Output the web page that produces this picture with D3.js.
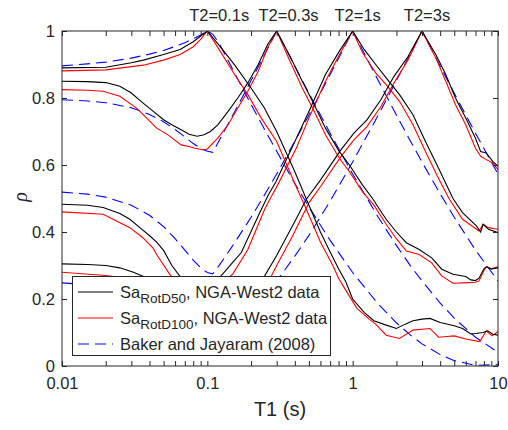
<!DOCTYPE html>
<html><head><meta charset="utf-8">
<script src="https://cdn.jsdelivr.net/npm/d3@7/dist/d3.min.js"></script>
<style>
html,body{margin:0;padding:0;background:#fff;}
svg text{font-family:"Liberation Sans",Arial,Helvetica,sans-serif;fill:#262626;}
</style></head>
<body><svg id="c" width="508" height="430"></svg>
<script>
// ---------- data ----------
const xTickMajor = [0.01, 0.1, 1, 10];
const yTicks = [0, 0.2, 0.4, 0.6, 0.8, 1];
const t2Labels = ["T2=0.1s", "T2=0.3s", "T2=1s", "T2=3s"];
const t2Values = [0.1, 0.3, 1, 3];
const legendLabels = [["Sa", "RotD50", ", NGA-West2 data"], ["Sa", "RotD100", ", NGA-West2 data"], ["Baker and Jayaram (2008)", "", ""]];

// Baker & Jayaram (2008) curves
const bjT = [0.01,0.015,0.02,0.03,0.04,0.05,0.06,0.07,0.08,0.09,0.1,0.109,0.12,0.15,0.2,0.25,0.3,0.4,0.5,0.7,1,1.5,2,2.5,3,4,5,7,10];
const bj01 = [0.896,0.902,0.907,0.919,0.931,0.942,0.954,0.965,0.977,0.988,1.0,0.990,0.965,0.884,0.781,0.703,0.641,0.545,0.475,0.375,0.279,0.185,0.129,0.092,0.066,0.034,0.016,0.002,0.004];
const bj03 = [0.795,0.791,0.786,0.771,0.751,0.729,0.706,0.684,0.664,0.650,0.641,0.638,0.671,0.749,0.852,0.933,1.0,0.895,0.814,0.695,0.573,0.444,0.360,0.299,0.254,0.188,0.143,0.086,0.041];
const bj1  = [0.519,0.513,0.504,0.480,0.450,0.416,0.380,0.346,0.316,0.293,0.279,0.275,0.299,0.360,0.444,0.514,0.573,0.671,0.749,0.870,1.0,0.852,0.749,0.671,0.609,0.514,0.444,0.346,0.254];
const bj3  = [0.248,0.243,0.237,0.219,0.196,0.170,0.143,0.117,0.094,0.077,0.067,0.063,0.076,0.111,0.163,0.211,0.254,0.328,0.390,0.492,0.609,0.749,0.852,0.933,1.0,0.895,0.814,0.695,0.573];

// NGA-West2 RotD50 (black) and RotD100 (red), T2 = 0.1 s
const d01T_50 = [0.01,0.02,0.03,0.0363,0.05,0.065,0.08,0.09,0.1,0.125,0.154,0.2,0.247,0.3,0.4,0.5,0.6,0.7,0.8,0.9,1.0,1.2,1.4,1.7,2.0,2.3,2.6,3.0,3.4,4.0,5.0,5.7,6.5,7.0,7.9,8.5,9.2,10];
const d01_50  = [0.890,0.892,0.905,0.913,0.930,0.945,0.968,0.985,1.0,0.949,0.899,0.830,0.770,0.700,0.580,0.480,0.400,0.340,0.290,0.250,0.200,0.160,0.135,0.122,0.112,0.125,0.135,0.140,0.142,0.130,0.120,0.112,0.096,0.097,0.100,0.105,0.095,0.092];
const d01T_100 = [0.01,0.02,0.0363,0.05,0.065,0.08,0.09,0.1,0.125,0.154,0.19,0.235,0.3,0.4,0.5,0.6,0.73,0.8,0.9,1.07,1.3,1.44,1.7,2.1,2.6,3.4,3.9,4.45,5.0,6.1,7.5,8.3,9.1,10];
const d01_100  = [0.881,0.884,0.898,0.913,0.930,0.953,0.975,1.0,0.934,0.870,0.810,0.740,0.670,0.545,0.450,0.370,0.300,0.262,0.225,0.172,0.140,0.125,0.092,0.082,0.107,0.112,0.086,0.088,0.090,0.080,0.073,0.105,0.090,0.103];

// T2 = 0.3 s
const d03T_50 = [0.01,0.015,0.02,0.025,0.03,0.035,0.0425,0.05,0.057,0.066,0.075,0.085,0.095,0.105,0.118,0.139,0.162,0.19,0.224,0.26,0.3,0.366,0.45,0.53,0.65,0.81,0.95,1.17,1.37,1.53,1.7,2.0,2.34,2.87,3.5,4.1,4.9,6.0,6.5,7.0,7.4,8.0,8.3,9.0,10];
const d03_50  = [0.850,0.849,0.846,0.835,0.815,0.790,0.760,0.735,0.720,0.705,0.692,0.686,0.690,0.700,0.720,0.760,0.800,0.845,0.900,0.960,1.0,0.929,0.850,0.790,0.710,0.640,0.600,0.540,0.500,0.468,0.438,0.400,0.368,0.348,0.323,0.289,0.274,0.267,0.257,0.255,0.262,0.290,0.296,0.290,0.293];
const d03T_100 = [0.01,0.015,0.0192,0.025,0.0326,0.0383,0.0448,0.0536,0.066,0.075,0.082,0.094,0.1,0.118,0.139,0.162,0.19,0.224,0.26,0.3,0.366,0.45,0.53,0.65,0.81,0.95,1.17,1.4,1.7,2.0,2.34,2.87,3.5,4.1,4.9,6.3,7.0,7.4,8.0,8.3,9.0,10];
const d03_100  = [0.825,0.823,0.820,0.805,0.770,0.740,0.710,0.690,0.660,0.655,0.650,0.645,0.648,0.680,0.720,0.770,0.820,0.880,0.950,1.0,0.915,0.830,0.770,0.690,0.620,0.580,0.520,0.480,0.423,0.380,0.343,0.333,0.308,0.269,0.247,0.249,0.250,0.254,0.285,0.296,0.290,0.296];

// T2 = 1 s
const d1T_50 = [0.01,0.015,0.0192,0.025,0.0293,0.035,0.0403,0.0448,0.05,0.057,0.065,0.075,0.09,0.105,0.116,0.131,0.15,0.171,0.224,0.26,0.297,0.41,0.5,0.65,0.81,1.0,1.2,1.44,1.7,2.1,2.6,3.17,3.9,4.9,5.7,7.1,7.6,7.9,8.6,10];
const d1_50  = [0.483,0.480,0.473,0.455,0.438,0.410,0.388,0.370,0.345,0.300,0.267,0.240,0.220,0.235,0.255,0.280,0.310,0.338,0.448,0.507,0.551,0.680,0.760,0.870,0.940,1.0,0.945,0.900,0.860,0.810,0.750,0.670,0.590,0.500,0.458,0.418,0.400,0.423,0.408,0.398];
const d1T_100 = [0.01,0.0192,0.0293,0.036,0.0425,0.0448,0.0553,0.065,0.08,0.1,0.128,0.15,0.19,0.248,0.276,0.297,0.41,0.5,0.65,0.81,1.0,1.17,1.44,1.7,2.1,2.6,3.17,3.9,4.6,5.7,7.4,7.9,8.6,10];
const d1_100  = [0.460,0.453,0.413,0.383,0.351,0.333,0.273,0.240,0.210,0.210,0.250,0.275,0.348,0.468,0.507,0.531,0.651,0.740,0.850,0.929,1.0,0.935,0.875,0.840,0.790,0.720,0.640,0.560,0.500,0.438,0.403,0.423,0.413,0.408];

// T2 = 3 s
const d3T_50 = [0.01,0.015,0.02,0.025,0.031,0.04,0.06,0.08,0.1,0.15,0.2,0.248,0.3,0.41,0.48,0.6,0.83,1.02,1.25,1.56,1.92,2.4,3.0,3.74,4.37,5.1,6.0,7.0,7.6,8.3,9.2,10];
const d3_50  = [0.305,0.303,0.300,0.293,0.280,0.260,0.220,0.190,0.180,0.200,0.235,0.269,0.330,0.440,0.498,0.555,0.645,0.695,0.734,0.794,0.864,0.923,1.0,0.929,0.870,0.800,0.740,0.680,0.640,0.636,0.611,0.596];
const d3T_100 = [0.01,0.02,0.03,0.04,0.06,0.08,0.1,0.15,0.2,0.276,0.3,0.386,0.5,0.6,0.83,1.02,1.25,1.56,1.92,2.4,3.0,3.74,4.37,5.1,6.0,7.0,7.6,8.3,9.2,10];
const d3_100  = [0.280,0.270,0.260,0.245,0.210,0.180,0.170,0.180,0.220,0.269,0.300,0.388,0.487,0.535,0.625,0.675,0.714,0.774,0.844,0.913,1.0,0.919,0.850,0.780,0.720,0.650,0.626,0.616,0.606,0.586];

// ---------- chart ----------
const svg = d3.select("#c");
const x = d3.scaleLog().domain([0.01, 10]).range([62, 498]);
const y = d3.scaleLinear().domain([0, 1]).range([366, 31]);
const axisColor = "#262626";
const fontSize = "16.5px";

svg.append("defs").append("clipPath").attr("id","clip")
  .append("rect").attr("x",62).attr("y",31).attr("width",436).attr("height",335);

const line = d3.line().x(d => x(d[0])).y(d => y(d[1]));
const g = svg.append("g").attr("clip-path","url(#clip)");

function draw(T, V, color, dash) {
  g.append("path").datum(T.map((t,i)=>[t,V[i]]))
    .attr("d", line).attr("fill","none").attr("stroke",color)
    .attr("stroke-width",1.1).attr("stroke-dasharray", dash || null);
}
const dash = "11,6";
[bj01,bj03,bj1,bj3].forEach(v => draw(bjT, v, "#0000ff", dash));
draw(d01T_100,d01_100,"#ff0000"); draw(d03T_100,d03_100,"#ff0000");
draw(d1T_100,d1_100,"#ff0000");   draw(d3T_100,d3_100,"#ff0000");
draw(d01T_50,d01_50,"#000000");   draw(d03T_50,d03_50,"#000000");
draw(d1T_50,d1_50,"#000000");     draw(d3T_50,d3_50,"#000000");

// axes
const minorTicks = [];
[0.01,0.1,1].forEach(d => { for (let k=1;k<=9;k++) minorTicks.push(d*k); });
minorTicks.push(10);
const fmt = d => xTickMajor.includes(+d.toPrecision(6)) ? String(+d.toPrecision(6)) : "";

function styleAxis(sel){
  sel.select(".domain").remove();
  sel.selectAll("line").attr("stroke",axisColor).attr("stroke-width",1);
  sel.selectAll("text").attr("font-size",fontSize).attr("fill",axisColor)
     .style("font-family",'"Liberation Sans",Arial,sans-serif');
}
svg.append("g").attr("transform","translate(0,366)")
  .call(d3.axisBottom(x).tickValues(minorTicks).tickFormat(fmt).tickSizeInner(-5).tickSizeOuter(0).tickPadding(11))
  .call(styleAxis);
svg.append("g").attr("transform","translate(0,31)")
  .call(d3.axisTop(x).tickValues(minorTicks).tickFormat("").tickSizeInner(-5).tickSizeOuter(0))
  .call(styleAxis);
svg.append("g").attr("transform","translate(62,0)")
  .call(d3.axisLeft(y).tickValues(yTicks).tickFormat(d => String(d)).tickSizeInner(-5).tickSizeOuter(0).tickPadding(7))
  .call(styleAxis);
svg.append("g").attr("transform","translate(498,0)")
  .call(d3.axisRight(y).tickValues(yTicks).tickFormat("").tickSizeInner(-5).tickSizeOuter(0))
  .call(styleAxis);

svg.append("rect").attr("x",62).attr("y",31).attr("width",436).attr("height",335)
  .attr("fill","none").attr("stroke",axisColor).attr("stroke-width",1);

// T2 labels on top
svg.selectAll(".t2lab").data(t2Labels).enter().append("text")
  .attr("x",(d,i)=>x(t2Values[i]*0.75)).attr("y",21)
  .attr("font-size",fontSize).attr("fill","#000").text(d=>d);

// axis labels
svg.append("text").attr("x",280).attr("y",416).attr("text-anchor","middle")
  .attr("font-size","20px").attr("fill",axisColor).text("T1 (s)");
svg.append("text").attr("transform","translate(27,197) rotate(-90)").attr("text-anchor","middle")
  .attr("font-size","20px").attr("font-style","italic").attr("fill",axisColor)
  .style("font-family",'"Liberation Serif","Times New Roman",serif').text("ρ");

// legend
const lg = svg.append("g");
lg.append("rect").attr("x",72.5).attr("y",276.5).attr("width",258).attr("height",79)
  .attr("fill","#fff").attr("stroke",axisColor).attr("stroke-width",1);
const legColors = ["#000000","#ff0000","#0000ff"];
const rowY = [292, 318, 344];
legendLabels.forEach((lab,i) => {
  lg.append("line").attr("x1",78).attr("x2",113).attr("y1",rowY[i]).attr("y2",rowY[i])
    .attr("stroke",legColors[i]).attr("stroke-width",1.1).attr("stroke-dasharray", i===2 ? dash : null);
  const t = lg.append("text").attr("x",120).attr("y",rowY[i]+6).attr("font-size",fontSize).attr("fill","#000");
  t.append("tspan").text(lab[0]);
  if (lab[1]) {
    t.append("tspan").attr("font-size","13.5px").attr("dy",5).text(lab[1]);
    t.append("tspan").attr("dy",-5).text(lab[2]);
  }
});
</script></body></html>
